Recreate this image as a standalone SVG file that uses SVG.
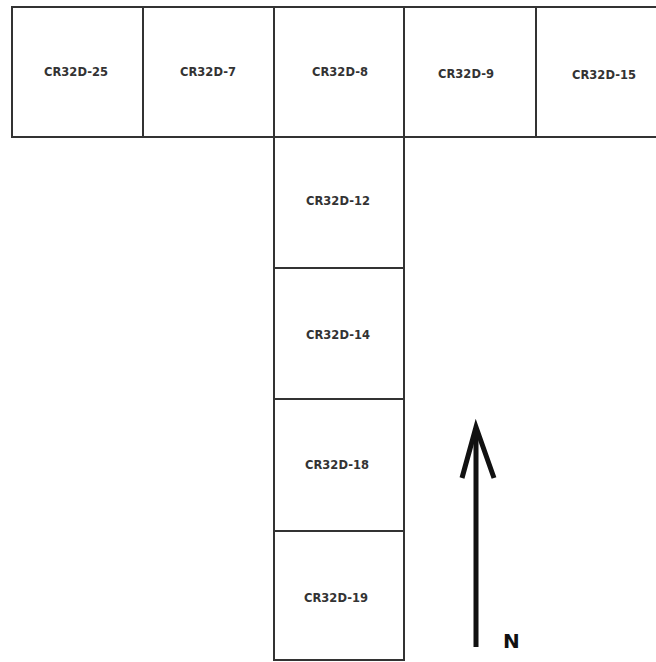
<svg xmlns="http://www.w3.org/2000/svg" width="656" height="662" viewBox="0 0 656 662">
<style>
.cell{fill:#fff;stroke:#333;stroke-width:2}
.lbl{font-family:"DejaVu Sans",Verdana,sans-serif;font-weight:bold;font-size:11.5px;fill:#333;text-anchor:middle}
.arr{fill:none;stroke:#111;stroke-width:5;stroke-linecap:butt;stroke-linejoin:miter}
</style>
<rect width="656" height="662" fill="#fff"/>
<g id="CR32D-25"><rect class="cell" x="12" y="7" width="131" height="130"/><text class="lbl" x="76" y="76">CR32D-25</text></g>
<g id="CR32D-7"><rect class="cell" x="143" y="7" width="131" height="130"/><text class="lbl" x="208" y="76">CR32D-7</text></g>
<g id="CR32D-8"><rect class="cell" x="274" y="7" width="130" height="130"/><text class="lbl" x="340" y="76">CR32D-8</text></g>
<g id="CR32D-9"><rect class="cell" x="404" y="7" width="132" height="130"/><text class="lbl" x="466" y="78">CR32D-9</text></g>
<g id="CR32D-15"><path class="cell" d="M657 7 H536 V137 H657"/><text class="lbl" x="604" y="79">CR32D-15</text></g>
<g id="CR32D-12"><rect class="cell" x="274" y="137" width="130" height="131"/><text class="lbl" x="338" y="205">CR32D-12</text></g>
<g id="CR32D-14"><rect class="cell" x="274" y="268" width="130" height="131"/><text class="lbl" x="338" y="339">CR32D-14</text></g>
<g id="CR32D-18"><rect class="cell" x="274" y="399" width="130" height="132"/><text class="lbl" x="337" y="469">CR32D-18</text></g>
<g id="CR32D-19"><rect class="cell" x="274" y="531" width="130" height="129"/><text class="lbl" x="336" y="602">CR32D-19</text></g>
<g id="north">
<path class="arr" d="M476 647 V428"/>
<path class="arr" d="M462 478 L476 427 L494 478"/>
<text x="503" y="648" font-family="DejaVu Sans,sans-serif" font-weight="bold" font-size="20" fill="#111">N</text>
</g>
</svg>
